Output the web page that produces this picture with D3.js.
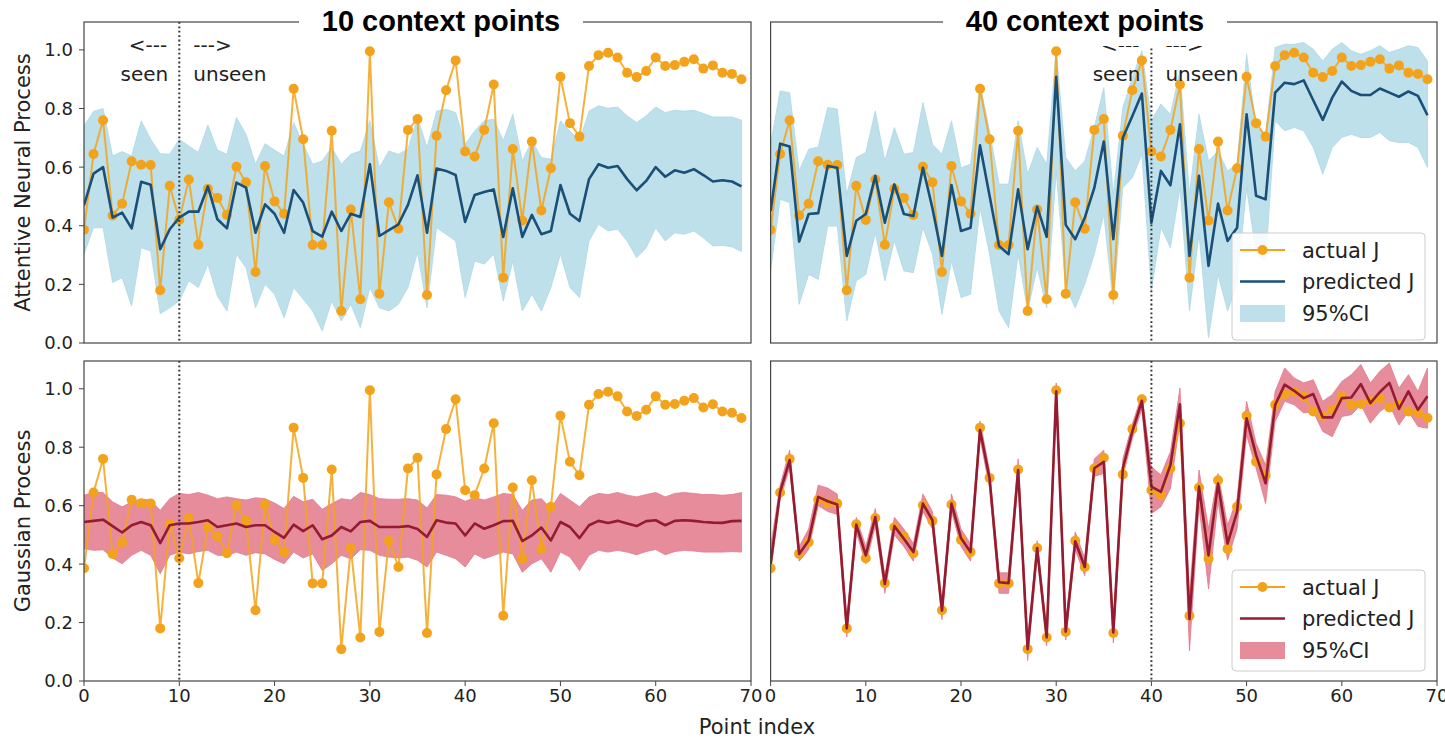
<!DOCTYPE html>
<html>
<head>
<meta charset="utf-8">
<script src="https://cdn.jsdelivr.net/npm/d3@7"></script>
<style>
  body { margin: 0; background: #fff; }
  svg { display: block; }
  text { font-family: "DejaVu Sans", sans-serif; fill: #222; }
</style>
</head>
<body>
<div id="chart"></div>
<script>
// point index 0..69, actual J is the same in all four panels
var pointIndex = d3.range(70);
var actualJ = [0.386,0.645,0.76,0.435,0.475,0.62,0.608,0.607,0.18,0.536,
  0.42,0.558,0.335,0.526,0.495,0.437,0.601,0.548,0.242,0.604,
  0.483,0.441,0.867,0.695,0.334,0.334,0.724,0.109,0.455,0.149,
  0.995,0.168,0.48,0.39,0.727,0.764,0.164,0.707,0.862,0.964,
  0.653,0.636,0.727,0.882,0.223,0.662,0.418,0.687,0.452,0.596,
  0.908,0.75,0.704,0.945,0.982,0.99,0.974,0.922,0.907,0.928,
  0.974,0.945,0.948,0.959,0.968,0.936,0.947,0.922,0.918,0.90];

// Attentive Neural Process, 10 context points
var anp10Pred = [0.47,0.578,0.60,0.428,0.445,0.391,0.55,0.54,0.32,0.388,
  0.428,0.448,0.448,0.534,0.422,0.391,0.547,0.53,0.376,0.473,
  0.441,0.376,0.522,0.479,0.382,0.363,0.448,0.382,0.441,0.43,
  0.61,0.365,0.385,0.405,0.471,0.572,0.376,0.595,0.587,0.573,
  0.413,0.505,0.515,0.524,0.362,0.528,0.362,0.437,0.371,0.382,
  0.539,0.441,0.416,0.559,0.61,0.598,0.604,0.559,0.521,0.553,
  0.60,0.567,0.589,0.581,0.593,0.573,0.551,0.555,0.551,0.534];
var anp10Upper = [0.74,0.79,0.80,0.638,0.653,0.638,0.758,0.695,0.646,0.644,
  0.695,0.672,0.65,0.744,0.658,0.644,0.769,0.712,0.61,0.68,
  0.658,0.638,0.752,0.678,0.61,0.621,0.667,0.61,0.644,0.655,
  0.758,0.599,0.655,0.644,0.661,0.769,0.667,0.791,0.797,0.786,
  0.678,0.723,0.758,0.763,0.69,0.78,0.621,0.69,0.633,0.627,
  0.758,0.723,0.69,0.791,0.809,0.801,0.805,0.775,0.752,0.775,
  0.805,0.786,0.794,0.791,0.794,0.783,0.771,0.771,0.771,0.76];
var anp10Lower = [0.303,0.393,0.393,0.206,0.223,0.126,0.325,0.314,0.1,0.12,
  0.143,0.212,0.189,0.269,0.16,0.109,0.303,0.257,0.12,0.2,
  0.166,0.086,0.189,0.15,0.109,0.041,0.143,0.075,0.132,0.052,
  0.189,0.12,0.109,0.132,0.189,0.31,0.12,0.393,0.371,0.348,
  0.155,0.28,0.269,0.303,0.143,0.28,0.109,0.166,0.109,0.189,
  0.303,0.189,0.155,0.348,0.405,0.382,0.388,0.348,0.291,0.325,
  0.393,0.348,0.376,0.371,0.382,0.359,0.331,0.333,0.328,0.312];

// Attentive Neural Process, 40 context points
var anp40Pred = [0.45,0.68,0.67,0.346,0.44,0.443,0.604,0.598,0.297,0.417,
  0.44,0.57,0.41,0.541,0.44,0.433,0.598,0.46,0.297,0.539,
  0.382,0.393,0.674,0.502,0.331,0.303,0.524,0.32,0.465,0.362,
  0.908,0.403,0.354,0.427,0.529,0.687,0.354,0.7,0.774,0.851,
  0.41,0.587,0.538,0.746,0.297,0.57,0.263,0.476,0.348,0.393,
  0.78,0.502,0.49,0.854,0.888,0.883,0.896,0.828,0.761,0.837,
  0.892,0.86,0.846,0.846,0.868,0.854,0.84,0.858,0.843,0.777];
var anp40Upper = [0.678,0.86,0.854,0.587,0.661,0.669,0.803,0.798,0.507,0.633,
  0.65,0.792,0.621,0.735,0.644,0.65,0.82,0.678,0.644,0.758,
  0.598,0.61,0.883,0.724,0.542,0.542,0.758,0.576,0.667,0.61,
  0.997,0.633,0.587,0.621,0.735,0.871,0.507,0.803,0.906,0.997,
  0.758,0.815,0.78,0.928,0.507,0.78,0.621,0.655,0.587,0.61,
  0.985,0.735,0.712,1.008,1.019,1.019,1.025,1.002,0.962,1.002,
  1.025,0.997,0.985,0.997,1.014,0.991,1.002,1.014,1.008,0.962];
var anp40Lower = [0.246,0.49,0.479,0.132,0.234,0.217,0.399,0.399,0.075,0.212,
  0.234,0.377,0.212,0.348,0.246,0.24,0.394,0.303,0.098,0.28,
  0.155,0.166,0.462,0.303,0.109,0.052,0.303,0.109,0.257,0.12,
  0.587,0.189,0.12,0.2,0.303,0.439,0.132,0.53,0.564,0.644,
  0.177,0.394,0.325,0.53,0.109,0.371,0.018,0.234,0.109,0.2,
  0.53,0.303,0.28,0.758,0.724,0.735,0.724,0.667,0.576,0.667,
  0.701,0.712,0.701,0.701,0.718,0.69,0.684,0.684,0.667,0.599];

// Gaussian Process, 10 context points
var gp10Pred = [0.544,0.548,0.552,0.53,0.508,0.533,0.544,0.533,0.472,0.533,
  0.539,0.539,0.544,0.55,0.527,0.533,0.539,0.527,0.533,0.533,
  0.51,0.49,0.535,0.513,0.533,0.485,0.498,0.527,0.512,0.544,
  0.548,0.527,0.527,0.527,0.53,0.52,0.493,0.55,0.542,0.539,
  0.498,0.539,0.521,0.533,0.547,0.548,0.479,0.498,0.525,0.481,
  0.544,0.527,0.489,0.533,0.548,0.541,0.548,0.539,0.53,0.547,
  0.55,0.533,0.548,0.55,0.548,0.544,0.542,0.541,0.547,0.548];
var gp10Upper = [0.636,0.645,0.645,0.613,0.596,0.613,0.622,0.619,0.584,0.624,
  0.642,0.638,0.645,0.636,0.624,0.63,0.624,0.619,0.627,0.624,
  0.609,0.59,0.632,0.613,0.622,0.588,0.607,0.624,0.619,0.645,
  0.638,0.624,0.622,0.622,0.624,0.619,0.592,0.638,0.636,0.63,
  0.615,0.627,0.619,0.63,0.642,0.638,0.584,0.619,0.624,0.59,
  0.642,0.619,0.596,0.63,0.642,0.638,0.645,0.636,0.63,0.638,
  0.645,0.63,0.642,0.645,0.642,0.638,0.638,0.636,0.638,0.645];
var gp10Lower = [0.453,0.447,0.449,0.421,0.401,0.43,0.447,0.43,0.367,0.43,
  0.441,0.435,0.443,0.447,0.43,0.43,0.441,0.43,0.439,0.435,
  0.416,0.401,0.441,0.421,0.435,0.378,0.401,0.43,0.418,0.449,
  0.447,0.43,0.424,0.421,0.424,0.413,0.39,0.441,0.43,0.418,
  0.39,0.435,0.418,0.43,0.441,0.435,0.372,0.401,0.418,0.372,
  0.441,0.424,0.378,0.43,0.447,0.441,0.447,0.441,0.432,0.443,
  0.45,0.432,0.443,0.447,0.445,0.441,0.441,0.441,0.443,0.441];

// Gaussian Process, 40 context points
var gp40Pred = [0.40,0.647,0.756,0.435,0.481,0.63,0.615,0.604,0.18,0.535,
  0.43,0.561,0.332,0.53,0.487,0.441,0.607,0.55,0.241,0.607,
  0.489,0.441,0.859,0.693,0.338,0.335,0.722,0.109,0.455,0.149,
  0.991,0.169,0.478,0.39,0.728,0.75,0.166,0.728,0.854,0.959,
  0.665,0.647,0.739,0.947,0.212,0.665,0.43,0.676,0.47,0.579,
  0.899,0.773,0.676,0.945,1.014,0.993,0.968,0.982,0.902,0.902,
  0.968,0.97,1.016,0.951,0.989,1.02,0.931,0.991,0.928,0.974];
var gp40Upper = [0.46,0.67,0.79,0.46,0.52,0.67,0.66,0.64,0.21,0.56,
  0.46,0.59,0.36,0.56,0.52,0.47,0.64,0.58,0.27,0.64,
  0.52,0.47,0.89,0.72,0.37,0.37,0.76,0.14,0.48,0.18,
  1.02,0.2,0.51,0.42,0.76,0.79,0.2,0.76,0.88,0.98,
  0.733,0.705,0.785,1.002,0.292,0.722,0.521,0.71,0.533,0.624,
  0.957,0.813,0.739,0.991,1.071,1.037,1.02,1.031,0.957,0.98,
  1.025,1.048,1.083,1.02,1.06,1.088,1.002,1.048,0.991,1.071];
var gp40Lower = [0.38,0.62,0.73,0.41,0.45,0.6,0.58,0.57,0.15,0.51,
  0.4,0.53,0.3,0.5,0.46,0.41,0.58,0.52,0.21,0.58,
  0.46,0.41,0.83,0.66,0.3,0.3,0.69,0.07,0.43,0.12,
  0.96,0.14,0.45,0.36,0.7,0.71,0.13,0.7,0.83,0.93,
  0.573,0.596,0.659,0.888,0.103,0.602,0.315,0.613,0.413,0.521,
  0.842,0.728,0.607,0.888,0.957,0.945,0.917,0.922,0.854,0.836,
  0.905,0.911,0.945,0.882,0.922,0.945,0.876,0.922,0.871,0.865];

var yTicks = [0, 0.2, 0.4, 0.6, 0.8, 1.0];
var xTicks = [0, 10, 20, 30, 40, 50, 60, 70];
var contextPoints = [10, 40];
var columnTitles = ["10 context points", "40 context points"];
var rowLabels = ["Attentive Neural Process", "Gaussian Process"];
var legendLabels = ["actual J", "predicted J", "95%CI"];

var orange = "#f3a31b";
var svg = d3.select("#chart").append("svg").attr("width", 1445).attr("height", 740);

var cols = [{x0: 84, x1: 751}, {x0: 770.6, x1: 1437}];
var rows = [
  {y0: 343, y1: 22, line: "#1a4f78", band: "#add8e6", bandOp: 0.8},
  {y0: 681, y1: 361, line: "#951a33", band: "#e2788a", bandOp: 0.85}
];

var series = [
  [[anp10Pred, anp10Upper, anp10Lower], [anp40Pred, anp40Upper, anp40Lower]],
  [[gp10Pred, gp10Upper, gp10Lower], [gp40Pred, gp40Upper, gp40Lower]]
];

rows.forEach(function(r, ri) {
  cols.forEach(function(c, ci) {
    var x = d3.scaleLinear().domain([0, 70]).range([c.x0, c.x1]);
    var y = d3.scaleLinear().domain([0, 1.095]).range([r.y0, r.y1]);
    var s = series[ri][ci];
    var pred = s[0], upper = s[1], lower = s[2];
    var clipId = "clip" + ri + ci;
    svg.append("clipPath").attr("id", clipId).append("rect")
      .attr("x", c.x0).attr("y", r.y1).attr("width", c.x1 - c.x0).attr("height", r.y0 - r.y1);
    var g = svg.append("g").attr("clip-path", "url(#" + clipId + ")");

    // 95% CI band
    var area = d3.area()
      .x(function(i) { return x(i); })
      .y0(function(i) { return y(lower[i]); })
      .y1(function(i) { return y(upper[i]); });
    g.append("path").datum(pointIndex).attr("d", area)
      .attr("fill", r.band).attr("fill-opacity", r.bandOp)
      .attr("stroke", r.band).attr("stroke-width", 0.8);

    // actual J
    var lineA = d3.line().x(function(i) { return x(i); }).y(function(i) { return y(actualJ[i]); });
    g.append("path").datum(pointIndex).attr("d", lineA)
      .attr("fill", "none").attr("stroke", orange).attr("stroke-opacity", 0.85).attr("stroke-width", 2);
    g.selectAll(".pt").data(pointIndex).enter().append("circle")
      .attr("cx", function(i) { return x(i); })
      .attr("cy", function(i) { return y(actualJ[i]); })
      .attr("r", 5).attr("fill", orange);

    // predicted J
    var lineP = d3.line().x(function(i) { return x(i); }).y(function(i) { return y(pred[i]); });
    g.append("path").datum(pointIndex).attr("d", lineP)
      .attr("fill", "none").attr("stroke", r.line).attr("stroke-width", 2.6)
      .attr("stroke-linejoin", "round");

    // seen / unseen divider
    svg.append("line")
      .attr("x1", x(contextPoints[ci])).attr("x2", x(contextPoints[ci]))
      .attr("y1", r.y1).attr("y2", r.y0)
      .attr("stroke", "#333").attr("stroke-width", 2).attr("stroke-dasharray", "1.8,2.6");

    // frame
    svg.append("rect").attr("x", c.x0).attr("y", r.y1)
      .attr("width", c.x1 - c.x0).attr("height", r.y0 - r.y1)
      .attr("fill", "none").attr("stroke", "#444").attr("stroke-width", 1.2);

    if (ci == 0) {
      yTicks.forEach(function(t) {
        svg.append("line").attr("x1", c.x0 - 5).attr("x2", c.x0)
          .attr("y1", y(t)).attr("y2", y(t)).attr("stroke", "#444");
        svg.append("text").attr("x", c.x0 - 11).attr("y", y(t)).attr("dy", "0.36em")
          .attr("text-anchor", "end").attr("font-size", 18).text(t.toFixed(1));
      });
      svg.append("text")
        .attr("transform", "translate(30," + ((r.y0 + r.y1) / 2) + ")rotate(-90)")
        .attr("text-anchor", "middle").attr("font-size", 21).text(rowLabels[ri]);
    }
    if (ri == 1) {
      xTicks.forEach(function(t) {
        svg.append("line").attr("x1", x(t)).attr("x2", x(t))
          .attr("y1", r.y0).attr("y2", r.y0 + 5).attr("stroke", "#444");
        svg.append("text").attr("x", x(t)).attr("y", 702)
          .attr("text-anchor", "middle").attr("font-size", 18).text(t);
      });
    }

    if (ri == 0) {
      // seen / unseen annotation
      var xc = x(contextPoints[ci]);
      svg.append("text").attr("x", xc - 12).attr("y", 52).attr("text-anchor", "end").attr("font-size", 20).text("<---");
      svg.append("text").attr("x", xc + 14).attr("y", 52).attr("font-size", 20).text("--->");
      svg.append("text").attr("x", xc - 11).attr("y", 81).attr("text-anchor", "end").attr("font-size", 20).text("seen");
      svg.append("text").attr("x", xc + 14).attr("y", 81).attr("font-size", 20).text("unseen");
    }

    if (ci == 1) {
      // legend
      var ly = ri == 0 ? 233 : 570;
      var lh = ri == 0 ? 107 : 101;
      var lg = svg.append("g");
      lg.append("rect").attr("x", 1232).attr("y", ly).attr("width", 193).attr("height", lh)
        .attr("rx", 4).attr("fill", "#fff").attr("fill-opacity", 0.85)
        .attr("stroke", "#ccc");
      var rowY = [ly + 17, ly + 48.5, ly + 80];
      lg.append("line").attr("x1", 1240).attr("x2", 1285).attr("y1", rowY[0]).attr("y2", rowY[0])
        .attr("stroke", orange).attr("stroke-width", 2);
      lg.append("circle").attr("cx", 1262.5).attr("cy", rowY[0]).attr("r", 5).attr("fill", orange);
      lg.append("line").attr("x1", 1240).attr("x2", 1285).attr("y1", rowY[1]).attr("y2", rowY[1])
        .attr("stroke", r.line).attr("stroke-width", 2.6);
      lg.append("rect").attr("x", 1240).attr("y", rowY[2] - 8).attr("width", 45).attr("height", 17)
        .attr("fill", r.band).attr("fill-opacity", r.bandOp);
      legendLabels.forEach(function(t, k) {
        lg.append("text").attr("x", 1302).attr("y", rowY[k]).attr("dy", "0.36em")
          .attr("font-size", 21).text(t);
      });
    }
  });
});

// column titles sit on a white box over the top frame
var titleX = [441, 1085];
columnTitles.forEach(function(t, ci) {
  svg.append("rect").attr("x", titleX[ci] - 142).attr("y", 0).attr("width", 284).attr("height", 46)
    .attr("fill", "#fff");
  svg.append("text").attr("x", titleX[ci]).attr("y", 31).attr("text-anchor", "middle")
    .style("font-family", "'Liberation Sans', Arial, sans-serif")
    .style("font-weight", "bold").style("font-size", "29px").style("fill", "#000").text(t);
});

svg.append("text").attr("x", 757).attr("y", 734).attr("text-anchor", "middle")
  .attr("font-size", 21).text("Point index");
</script>
</body>
</html>
